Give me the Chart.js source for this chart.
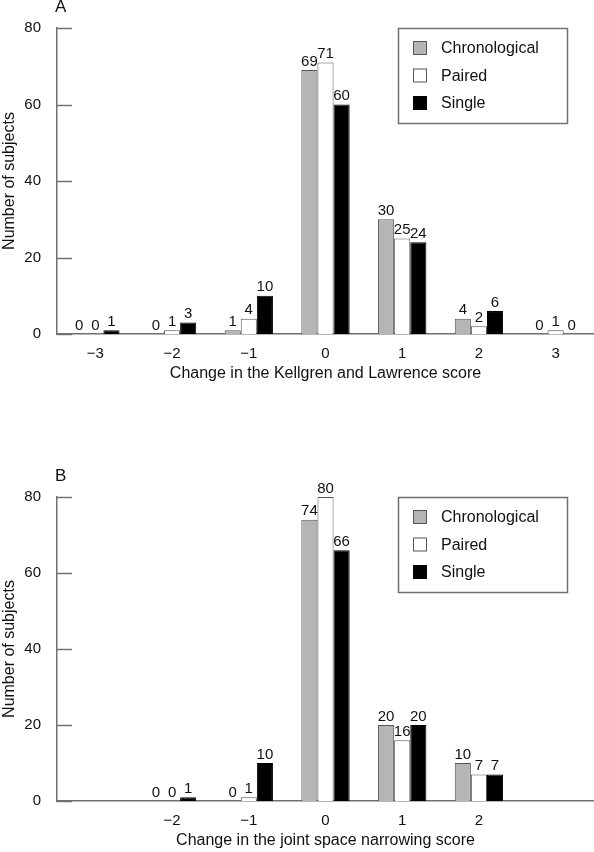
<!DOCTYPE html>
<html>
<head>
<meta charset="utf-8">
<script src="https://cdn.jsdelivr.net/npm/chart.js@4"></script>
<style>
    body { margin: 0; background: #fff; }
    .panel { position: relative; width: 594px; }
    canvas { display: block; }
</style>
</head>
<body>
<div class="panel"><canvas id="chart-a" width="594" height="420"></canvas></div>
<div class="panel"><canvas id="chart-b" width="594" height="432"></canvas></div>
<script>
// panel A - Kellgren and Lawrence score
var klLabels = ['\u22123', '\u22122', '\u22121', '0', '1', '2', '3'];
var klChronological = [0, 0, 1, 69, 30, 4, 0];
var klPaired = [0, 1, 4, 71, 25, 2, 1];
var klSingle = [1, 3, 10, 60, 24, 6, 0];

// panel B - joint space narrowing score (outer categories empty)
var jsnLabels = ['', '\u22122', '\u22121', '0', '1', '2', ''];
var jsnChronological = [null, 0, 0, 74, 20, 10, null];
var jsnPaired = [null, 0, 1, 80, 16, 7, null];
var jsnSingle = [null, 1, 10, 66, 20, 7, null];

var yTicks = [0, 20, 40, 60, 80];
var seriesNames = ['Chronological', 'Paired', 'Single'];

(function () {
    var FONT = "'Liberation Sans', Arial, Helvetica, sans-serif";
    var AXIS = '#707070';
    Chart.defaults.font.family = FONT;
    Chart.defaults.color = '#111';

    var styles = [
        { bg: '#b5b5b5', border: '#555555' },
        { bg: '#ffffff', border: '#555555' },
        { bg: '#000000', border: '#000000' },
    ];

    // short tick marks pointing into the plot, plus panel letter
    var decorations = {
        id: 'decorations',
        afterDraw: function (chart) {
            var ctx = chart.ctx;
            var area = chart.chartArea;
            var y = chart.scales.y;
            ctx.save();
            ctx.strokeStyle = AXIS;
            ctx.lineWidth = 1.5;
            y.ticks.forEach(function (t) {
                var py = Math.round(y.getPixelForValue(t.value)) + 0.5;
                ctx.beginPath();
                ctx.moveTo(area.left, py);
                ctx.lineTo(area.left + 15, py);
                ctx.stroke();
            });
            ctx.fillStyle = '#111';
            ctx.font = '17px ' + FONT;
            ctx.textAlign = 'left';
            ctx.textBaseline = 'middle';
            ctx.fillText(chart.options.plugins.decorations.letter, area.left - 2, area.top - 21);
            ctx.restore();
        },
    };

    // numbers above each bar
    var valueLabels = {
        id: 'valueLabels',
        afterDatasetsDraw: function (chart) {
            var ctx = chart.ctx;
            ctx.save();
            ctx.fillStyle = '#111';
            ctx.font = '15px ' + FONT;
            ctx.textAlign = 'center';
            ctx.textBaseline = 'bottom';
            chart.data.datasets.forEach(function (ds, i) {
                var meta = chart.getDatasetMeta(i);
                meta.data.forEach(function (bar, j) {
                    var v = ds.data[j];
                    if (v == null) return;
                    ctx.fillText(String(v), bar.x, bar.y - 1);
                });
            });
            ctx.restore();
        },
    };

    // boxed legend in the top right of the plot
    var boxLegend = {
        id: 'boxLegend',
        afterDraw: function (chart) {
            var ctx = chart.ctx;
            var area = chart.chartArea;
            var left = area.right - 196;
            var top = area.top;
            var w = 169, h = 95;
            ctx.save();
            ctx.strokeStyle = AXIS;
            ctx.lineWidth = 1.5;
            ctx.strokeRect(left + 0.5, top + 0.5, w, h);
            ctx.font = '16px ' + FONT;
            ctx.textAlign = 'left';
            ctx.textBaseline = 'middle';
            chart.data.datasets.forEach(function (ds, i) {
                var cy = top + 20 + i * 27.5;
                ctx.fillStyle = ds.backgroundColor;
                ctx.fillRect(left + 15, cy - 7, 14, 14);
                ctx.strokeStyle = ds.borderColor;
                ctx.lineWidth = 1;
                ctx.strokeRect(left + 15.5, cy - 6.5, 13, 13);
                ctx.fillStyle = '#111';
                ctx.fillText(ds.label, left + 43, cy + 1);
            });
            ctx.restore();
        },
    };

    function makeChart(id, labels, series, xTitle, letter, padTop, padBottom) {
        var ctx = document.getElementById(id).getContext('2d');
        var datasets = series.map(function (data, i) {
            return {
                label: seriesNames[i],
                data: data,
                backgroundColor: styles[i].bg,
                borderColor: styles[i].border,
                borderWidth: 1,
                borderSkipped: 'bottom',
                categoryPercentage: 0.63,
                barPercentage: 1.0,
            };
        });

        return new Chart(ctx, {
            type: 'bar',
            data: { labels: labels, datasets: datasets },
            plugins: [decorations, valueLabels, boxLegend],
            options: {
                responsive: false,
                animation: false,
                devicePixelRatio: 1,
                layout: { padding: { top: padTop, bottom: padBottom, left: 0, right: 0 } },
                plugins: {
                    legend: { display: false },
                    tooltip: { enabled: false },
                    decorations: { letter: letter },
                },
                scales: {
                    x: {
                        grid: { display: false },
                        border: { display: true, color: AXIS, width: 1.5 },
                        ticks: { font: { size: 15 }, color: '#111', padding: 3, maxRotation: 0, autoSkip: false },
                        title: {
                            display: true,
                            text: xTitle,
                            color: '#111',
                            font: { size: 16 },
                            padding: 0,
                        },
                        afterFit: function (scale) {
                            scale.height = 49;
                        },
                    },
                    y: {
                        min: 0,
                        max: 80,
                        grid: { display: false },
                        border: { display: true, color: AXIS, width: 1.5 },
                        afterBuildTicks: function (scale) {
                            scale.ticks = yTicks.map(function (v) {
                                return { value: v };
                            });
                        },
                        ticks: { font: { size: 15 }, color: '#111', padding: 8 },
                        title: {
                            display: true,
                            text: 'Number of subjects',
                            color: '#111',
                            font: { size: 16 },
                            padding: 0,
                        },
                        afterFit: function (scale) {
                            scale.width = 57;
                        },
                    },
                },
            },
        });
    }

    makeChart('chart-a', klLabels, [klChronological, klPaired, klSingle],
        'Change in the Kellgren and Lawrence score', 'A', 28, 37);
    makeChart('chart-b', jsnLabels, [jsnChronological, jsnPaired, jsnSingle],
        'Change in the joint space narrowing score', 'B', 77, 2);
})();
</script>
</body>
</html>
